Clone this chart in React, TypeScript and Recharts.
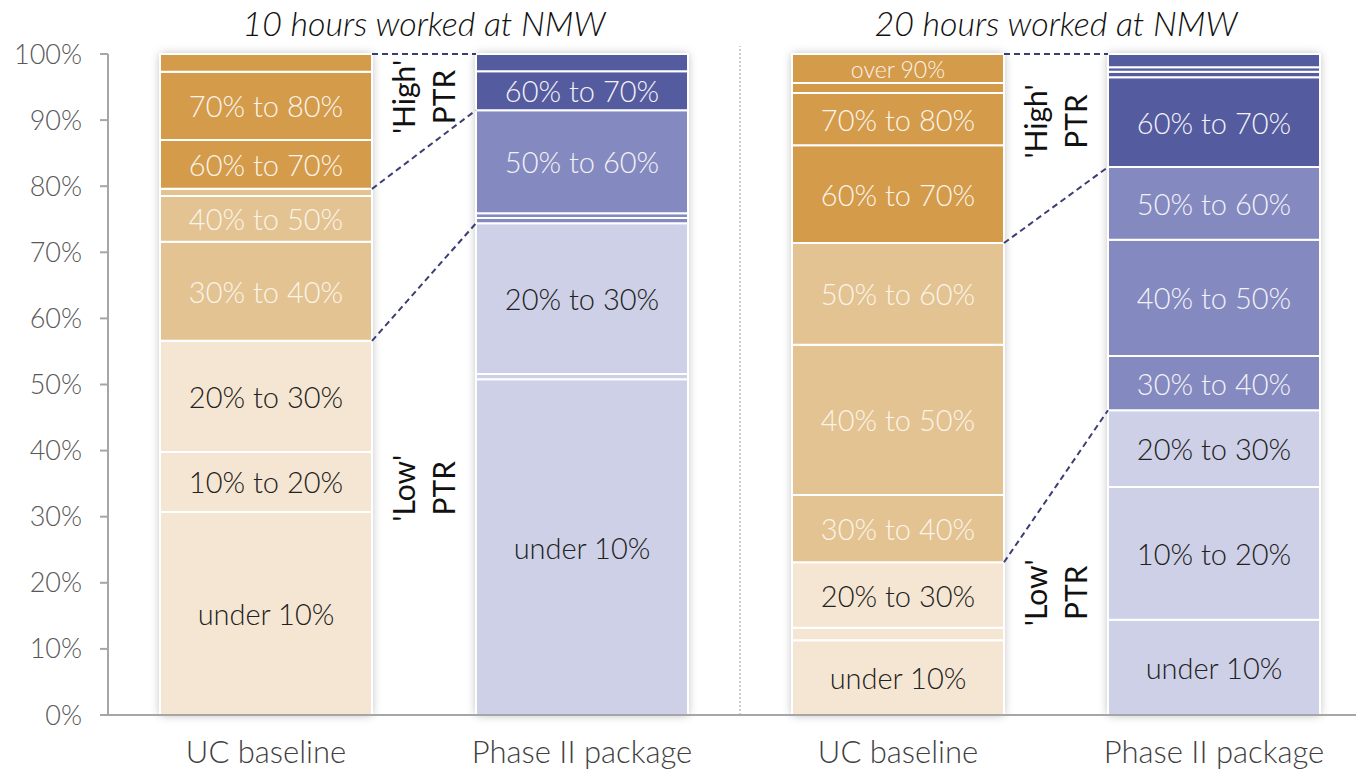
import React from 'react';
import { BarChart, Bar, XAxis, YAxis, Cell, LabelList, ReferenceLine, ReferenceDot } from 'recharts';

const FONT = "Lato, 'Open Sans', 'DejaVu Sans', sans-serif";

// ---- data ----
const categories = ['UC baseline', 'Phase II package', 'UC baseline', 'Phase II package'];
const groupOf = ['uc', 'p2', 'uc', 'p2'];
const bands = [
  'under 10%', '10% to 20%', '20% to 30%', '30% to 40%', '40% to 50%',
  '50% to 60%', '60% to 70%', '70% to 80%', '80% to 90%', 'over 90%',
];
// share of people in each PTR band (%)
const uc10 = [30.7, 9.1, 16.8, 15.0, 6.9, 1.1, 7.4, 10.3, 2.7, 0];
const phase2_10 = [50.8, 0.8, 22.8, 0.8, 0.7, 15.6, 5.9, 2.6, 0, 0];
const uc20 = [11.3, 1.9, 9.9, 10.2, 22.7, 15.4, 14.8, 7.9, 1.5, 4.4];
const phase2_20 = [14.4, 20.1, 11.6, 8.2, 17.6, 11.0, 13.6, 0.8, 0.7, 2.0];
const series = [uc10, phase2_10, uc20, phase2_20];
const titles = ['10 hours worked at NMW', '20 hours worked at NMW'];
const yTicks = [0, 10, 20, 30, 40, 50, 60, 70, 80, 90, 100];

const palette: Record<string, string[]> = {
  uc: ['#f5e6d3', '#e3c391', '#d39b4a'],
  p2: ['#cdd0e6', '#8489bf', '#545b9e'],
};
const labelColor: Record<string, string[]> = {
  uc: ['#222222', '#fbf4ea', '#fbf4ea'],
  p2: ['#222222', '#f2f2f8', '#f2f2f8'],
};
const tier = (seg: number) => (seg < 3 ? 0 : seg < 6 ? 1 : 2);

const data = categories.map((name, i) => {
  const row: Record<string, any> = { name, pos: i + 0.5 };
  series[i].forEach((v, s) => (row['s' + s] = v));
  return row;
});

const BAND = 316;
const BAR_SIZE = 212;
const half = BAR_SIZE / 2 / BAND;
const cum = (arr: number[], n: number) => arr.slice(0, n).reduce((a, b) => a + b, 0);

const connectors: { x1: number; y1: number; x2: number; y2: number }[] = [];
[0, 2].forEach((i) => {
  const a = series[i];
  const b = series[i + 1];
  const xa = i + 0.5 + half;
  const xb = i + 1.5 - half;
  connectors.push({ x1: xa, y1: 100, x2: xb, y2: 100 });
  connectors.push({ x1: xa, y1: cum(a, 6), x2: xb, y2: cum(b, 6) });
  connectors.push({ x1: xa, y1: cum(a, 3), x2: xb, y2: cum(b, 3) });
});

const annotations = [
  { x: 1, y: 93.5, lines: ["'High'", 'PTR'] },
  { x: 1, y: 34.3, lines: ["'Low'", 'PTR'] },
  { x: 3, y: 89.8, lines: ["'High'", 'PTR'] },
  { x: 3, y: 18.5, lines: ["'Low'", 'PTR'] },
];

const segLabel = (seg: number) => (props: any) => {
  const { x, y, width, height, index } = props;
  const h = Math.abs(Number(height));
  if (h < 25) return null;
  const fs = h < 36 ? 23 : 29;
  const g = groupOf[index];
  return (
    <text
      x={Number(x) + Number(width) / 2}
      y={Number(y) + Number(height) / 2}
      textAnchor="middle"
      dominantBaseline="central"
      fontSize={fs}
      fontFamily={FONT}
      fontWeight={300}
      fill={labelColor[g][tier(seg)]}
    >
      {bands[seg]}
    </text>
  );
};

const shadowBackground = (p: any) => (
  <rect
    x={p.x}
    y={p.y}
    width={p.width}
    height={p.height}
    fill="#ffffff"
    style={{ filter: 'drop-shadow(0px 0px 5px rgba(0,0,0,0.28))' }}
  />
);

export default function App() {
  return (
    <div style={{ width: 1364, height: 771, marginTop: -8 }}>
      <style>{'html,body{overflow:hidden}'}</style>
      <BarChart
        width={1364}
        height={771}
        data={data}
        margin={{ top: 54, right: 0, left: 0, bottom: 0 }}
        barSize={BAR_SIZE}
        style={{ fontFamily: FONT }}
      >
        <XAxis
          dataKey="name"
          tickLine={false}
          axisLine={{ stroke: '#a6a6a6', strokeWidth: 2 }}
          tick={{ fontSize: 31, fill: '#404040', fontWeight: 300, fontFamily: FONT }}
          tickMargin={20}
          height={56}
          interval={0}
        />
        <XAxis
          xAxisId="n"
          dataKey="pos"
          type="number"
          domain={[0, 4]}
          allowDataOverflow
          hide
        />
        <YAxis
          domain={[0, 100]}
          ticks={yTicks}
          width={100}
          tickFormatter={(v) => v + '%'}
          tickSize={8}
          tickMargin={18}
          axisLine={{ stroke: '#a6a6a6', strokeWidth: 2 }}
          tickLine={{ stroke: '#a6a6a6', strokeWidth: 2 }}
          tick={{ fontSize: 27, fill: '#595959', fontWeight: 300, fontFamily: FONT }}
          interval={0}
        />
        {bands.map((b, s) => (
          <Bar
            key={b}
            dataKey={'s' + s}
            stackId="a"
            stroke="#ffffff"
            strokeWidth={2}
            isAnimationActive={false}
            background={s === 0 ? shadowBackground : undefined}
          >
            {data.map((d, i) => (
              <Cell key={i} fill={palette[groupOf[i]][tier(s)]} />
            ))}
            <LabelList dataKey={'s' + s} content={segLabel(s)} />
          </Bar>
        ))}
        <ReferenceLine
          xAxisId="n"
          segment={[{ x: 2, y: 0 }, { x: 2, y: 101.2 }]}
          stroke="#9a9a9a"
          strokeWidth={1}
          strokeDasharray="2 2"
          ifOverflow="visible"
        />
        {connectors.map((c, i) => (
          <ReferenceLine
            key={'c' + i}
            xAxisId="n"
            segment={[{ x: c.x1, y: c.y1 }, { x: c.x2, y: c.y2 }]}
            stroke="#3b3e74"
            strokeWidth={2}
            strokeDasharray="6 4"
            ifOverflow="visible"
          />
        ))}
        {annotations.map((a, i) => (
          <ReferenceDot
            key={'a' + i}
            xAxisId="n"
            x={a.x}
            y={a.y}
            r={0}
            ifOverflow="visible"
            shape={(p: any) => (
              <g>
                {a.lines.map((t, k) => (
                  <text
                    key={k}
                    transform={`translate(${p.cx + (k === 0 ? -21 : 19)},${p.cy}) rotate(-90)`}
                    textAnchor="middle"
                    dominantBaseline="central"
                    fontSize={30}
                    fontFamily={FONT}
                    fill="#111111"
                  >
                    {t}
                  </text>
                ))}
              </g>
            )}
          />
        ))}
        {titles.map((t, i) => (
          <ReferenceDot
            key={'t' + i}
            xAxisId="n"
            x={1 + i * 2}
            y={100}
            r={0}
            ifOverflow="visible"
            shape={(p: any) => (
              <text
                x={p.cx}
                y={p.cy - 18}
                textAnchor="middle"
                fontSize={34}
                fontStyle="italic"
                fontWeight={300}
                fontFamily={FONT}
                fill="#111111"
              >
                {t}
              </text>
            )}
          />
        ))}
      </BarChart>
    </div>
  );
}
